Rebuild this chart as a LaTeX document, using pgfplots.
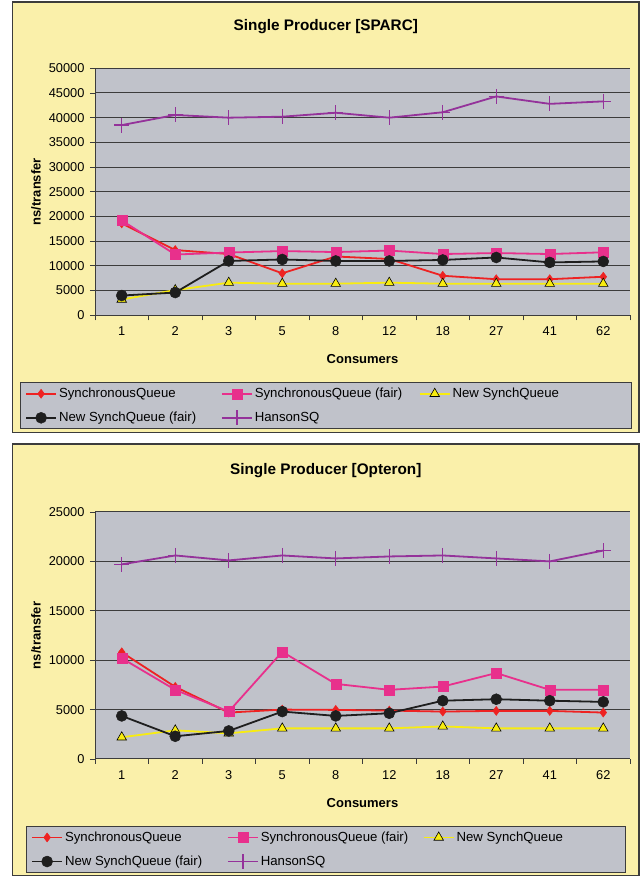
\documentclass[border=0pt]{standalone}
\usepackage{fontspec}
\setmainfont{Liberation Sans}
\usepackage{pgfplots}
\pgfplotsset{compat=1.18}
\definecolor{panelyellow}{HTML}{FAF0AA}
\definecolor{plotgray}{HTML}{C0C2CA}
\definecolor{gridc}{HTML}{3C3C3C}
\definecolor{sqred}{HTML}{EE2222}
\definecolor{sqmag}{HTML}{E8308C}
\definecolor{nsyel}{HTML}{F8EC10}
\definecolor{nsblk}{HTML}{1E1E1E}
\definecolor{hpur}{HTML}{94329A}

\pgfplotstableread{
x sq sqf ns nsf han
0 18600 19200 3200 4000 38500
1 13200 12300 5100 4600 40550
2 12400 12700 6600 11000 40000
3 8500 13000 6400 11300 40200
4 11900 12800 6400 11000 41000
5 11400 13100 6600 11000 40000
6 8000 12400 6400 11200 41100
7 7300 12600 6400 11700 44300
8 7300 12400 6400 10700 42800
9 7800 12750 6400 10900 43300
}\sparc

\pgfplotstableread{
x sq sqf ns nsf han
0 10800 10200 2200 4360 19700
1 7300 7000 2900 2300 20600
2 4700 4800 2600 2840 20100
3 5000 10850 3100 4800 20600
4 4970 7600 3100 4360 20300
5 4900 7000 3100 4630 20500
6 4800 7330 3300 5900 20600
7 4870 8700 3100 6050 20300
8 4870 7000 3100 5900 20000
9 4700 7000 3100 5780 21100
}\opteron

\newcommand{\fs}[1]{\fontsize{#1}{#1}\selectfont}

\pgfplotsset{
  panel/.style={
    scale only axis, width=535pt, height=247pt,
    anchor=north west,
    xmin=-0.5, xmax=9.5,
    xtick={0,...,9},
    xticklabels={1,2,3,5,8,12,18,27,41,62},
    minor xtick={-0.5,0.5,...,9.5},
    major x tick style={draw=none},
    tick align=outside,
    major tick length=5pt, minor tick length=5pt,
    tick style={gridc, line width=0.8pt},
    axis x line*=bottom, axis y line*=left,
    axis line style={gridc, line width=1pt, -},
    axis background/.style={fill=plotgray},
    ymajorgrids, major grid style={gridc, line width=1pt},
    ymin=0, ytick distance=5000,
    scaled y ticks=false,
    /pgf/number format/.cd, assume math mode=true, 1000 sep={}, /pgfplots/.cd,
    tick label style={font=\fs{12.8}},
    xticklabel style={yshift=-3pt},
    yticklabel style={xshift=-2pt},
    xlabel={Consumers}, ylabel={ns/transfer},
    label style={font=\bfseries\fs{13}},
    xlabel style={at={(axis description cs:0.5,0)}, anchor=center, yshift=-44pt},
    ylabel style={at={(axis description cs:-0.110,0.5)}, anchor=center},
    title style={font=\bfseries\fs{15.3}, at={(axis description cs:0.4314,1.143)}, anchor=center, yshift=0pt},
    legend columns=3,
    legend cell align=left,
    legend style={draw=none, fill=none, font=\fs{13.2},
      at={(axis description cs:-0.1308,-0.3664)}, anchor=west,
      row sep=9pt, inner sep=0pt,
      /tikz/every even column/.append style={column sep=0pt}},
    legend image code/.code={\draw[mark repeat=2,mark phase=2,##1] plot coordinates {(0pt,0pt) (15pt,0pt) (30pt,0pt)};},
    every axis plot/.append style={line width=1.8pt},
  },
  sqs/.style={sqred, mark=diamond*, mark size=4.5pt, mark options={fill=sqred, draw=sqred, line width=0.5pt}},
  sqfs/.style={sqmag, mark=square*, mark size=5pt, mark options={fill=sqmag, draw=sqmag, line width=0.5pt}},
  nss/.style={nsyel, mark=triangle*, mark size=5.5pt, mark options={fill=nsyel, draw=black, line width=0.6pt}},
  nsfs/.style={nsblk, mark=*, mark size=5.5pt, mark options={fill=nsblk, draw=nsblk, line width=0.5pt}},
  hans/.style={hpur, mark=+, mark size=7.5pt, mark options={draw=hpur, line width=1.2pt}},
}

\begin{document}
\begin{tikzpicture}
\path[fill=white] (0pt,0pt) rectangle (642pt,877pt);
% panels
\draw[fill=panelyellow, draw=gridc, line width=1.5pt] (12.5pt,875pt) rectangle (639pt,444.3pt);
\draw[fill=panelyellow, draw=gridc, line width=1.5pt] (12.5pt,433pt) rectangle (639pt,1.5pt);
% legend boxes
\draw[fill=plotgray, draw=gridc, line width=1pt] (20.5pt,494.3pt) rectangle (631pt,448.7pt);
\draw[fill=plotgray, draw=gridc, line width=1pt] (26.6pt,50pt) rectangle (625pt,4pt);

\begin{axis}[panel, at={(95pt,808.7pt)}, ymax=50000,
  title={Single Producer [SPARC]}]
\addplot[sqs] table[x=x,y=sq]{\sparc};
\addlegendentry{\makebox[160pt][l]{SynchronousQueue}}
\addplot[sqfs] table[x=x,y=sqf]{\sparc};
\addlegendentry{\makebox[162pt][l]{SynchronousQueue (fair)}}
\addplot[nss] table[x=x,y=ns]{\sparc};
\addlegendentry{\makebox[130pt][l]{New SynchQueue}}
\addplot[nsfs] table[x=x,y=nsf]{\sparc};
\addlegendentry{\makebox[160pt][l]{New SynchQueue (fair)}}
\addplot[hans] table[x=x,y=han]{\sparc};
\addlegendentry{\makebox[162pt][l]{HansonSQ}}
\end{axis}

\begin{axis}[panel, at={(95pt,365pt)}, ymax=25000,
  title={Single Producer [Opteron]},
  legend style={at={(axis description cs:-0.1196,-0.3664)}}]
\addplot[sqs] table[x=x,y=sq]{\opteron};
\addlegendentry{\makebox[160pt][l]{SynchronousQueue}}
\addplot[sqfs] table[x=x,y=sqf]{\opteron};
\addlegendentry{\makebox[160pt][l]{SynchronousQueue (fair)}}
\addplot[nss] table[x=x,y=ns]{\opteron};
\addlegendentry{\makebox[130pt][l]{New SynchQueue}}
\addplot[nsfs] table[x=x,y=nsf]{\opteron};
\addlegendentry{\makebox[160pt][l]{New SynchQueue (fair)}}
\addplot[hans] table[x=x,y=han]{\opteron};
\addlegendentry{\makebox[160pt][l]{HansonSQ}}
\end{axis}
\end{tikzpicture}
\end{document}
